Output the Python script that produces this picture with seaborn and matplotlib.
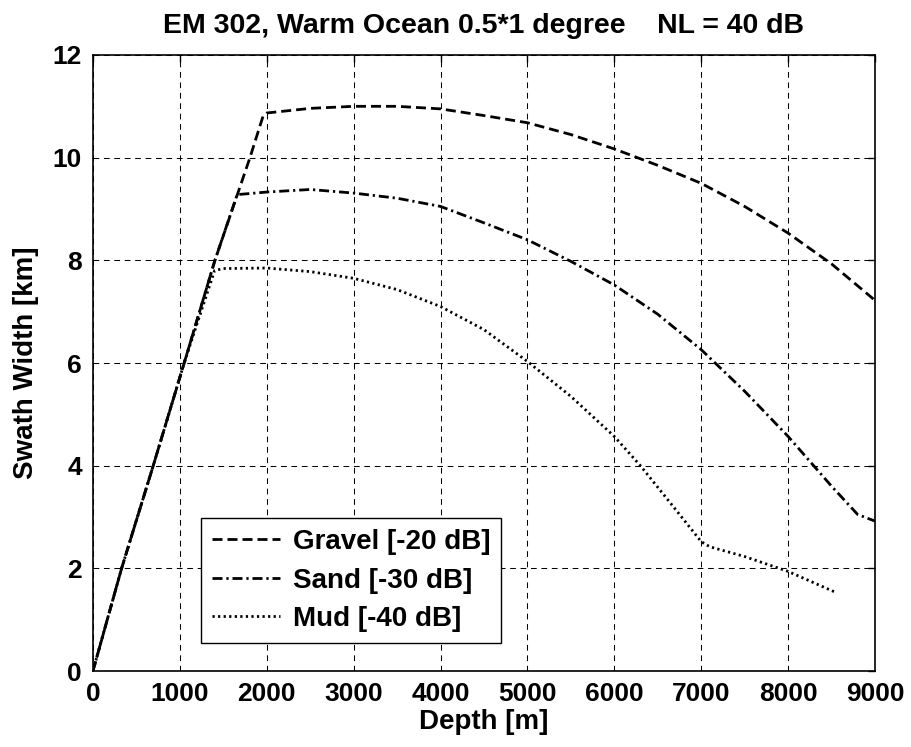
import pandas as pd
import matplotlib
matplotlib.use("Agg")
import matplotlib.pyplot as plt
import seaborn as sns

sns.set_theme(style="white")
plt.rcParams['font.family'] = ['Liberation Sans', 'DejaVu Sans']
plt.rcParams['font.weight'] = 'bold'
plt.rcParams['text.color'] = 'black'
plt.rcParams['axes.labelcolor'] = 'black'
plt.rcParams['xtick.color'] = 'black'
plt.rcParams['ytick.color'] = 'black'

# depth [m] / swath width [km]
gravel_depth = [0, 330, 694, 1050, 1404, 1807, 1960, 2000, 2500, 3000, 3500, 4000, 4500,
                5000, 5500, 6000, 6500, 7000, 7500, 8000, 8500, 9000]
gravel_width = [0, 2, 4, 6, 8, 10, 10.82, 10.87, 10.96, 11.0, 11.0, 10.95, 10.82,
                10.68, 10.45, 10.17, 9.85, 9.5, 9.05, 8.53, 7.93, 7.22]

sand_depth = [0, 330, 694, 1050, 1404, 1660, 2000, 2500, 3000, 3500, 4000, 4500,
              5000, 5500, 6000, 6500, 7000, 7500, 8000, 8500, 8800, 9000]
sand_width = [0, 2, 4, 6, 8, 9.28, 9.33, 9.38, 9.31, 9.21, 9.05, 8.73,
              8.40, 7.98, 7.52, 6.95, 6.26, 5.45, 4.57, 3.6, 3.05, 2.92]

mud_depth = [0, 330, 694, 1050, 1400, 1500, 2000, 2500, 3000, 3500, 4000, 4500,
             5000, 5500, 6000, 6300, 6680, 7000, 7100, 7500, 8000, 8550]
mud_width = [0, 2, 4, 6, 7.8, 7.84, 7.85, 7.78, 7.65, 7.43, 7.10, 6.65,
             6.03, 5.35, 4.57, 4.0, 3.2, 2.52, 2.42, 2.23, 1.94, 1.53]

labels = ["Gravel [-20 dB]", "Sand [-30 dB]", "Mud [-40 dB]"]
styles = [(0, (3.6, 1.8)), (0, (3.6, 1.4, 0.8, 1.4)), (0, (0.8, 1.2))]

fig, ax = plt.subplots(figsize=(9.11, 7.47), dpi=100)
fig.subplots_adjust(left=0.102, right=0.9605, bottom=0.1017, top=0.9264)

series = [(gravel_depth, gravel_width), (sand_depth, sand_width), (mud_depth, mud_width)]
for (x, y), lab, ls in zip(series, labels, styles):
    sns.lineplot(x=x, y=y, ax=ax, color="black", linewidth=2.0, linestyle=ls,
                 label=lab, sort=False)

ax.set_xlim(0, 9000)
ax.set_ylim(0, 12)
ax.set_xticks(range(0, 9001, 1000))
ax.set_yticks(range(0, 13, 2))
ax.grid(True, color="black", linestyle=(0, (5.5, 4.5)), linewidth=0.75)
ax.tick_params(direction="in", length=5, width=1, top=True, right=True,
               labelsize=19, pad=8, colors="black")
for s in ax.spines.values():
    s.set_color("black")
    s.set_linewidth(1.2)

ax.set_title("EM 302, Warm Ocean 0.5*1 degree    NL = 40 dB",
             fontsize=20.5, fontweight="bold", pad=16)
ax.set_xlabel("Depth [m]", fontsize=20, fontweight="bold", labelpad=2)
ax.set_ylabel("Swath Width [km]", fontsize=20, fontweight="bold", labelpad=10)

leg = ax.legend(loc="lower left", bbox_to_anchor=(0.138, 0.045), fontsize=20,
                frameon=True, fancybox=False, edgecolor="black", framealpha=1,
                handlelength=2.45, handletextpad=0.45, labelspacing=0.45,
                borderpad=0.4, borderaxespad=0)
leg.get_frame().set_linewidth(1.0)

fig.savefig("out.png", dpi=100)
